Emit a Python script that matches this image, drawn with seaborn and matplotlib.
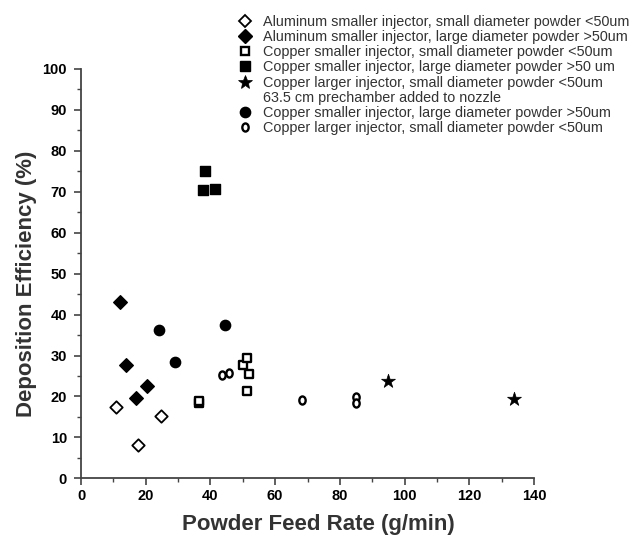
import matplotlib
matplotlib.use("Agg")
import matplotlib.pyplot as plt
from matplotlib.lines import Line2D
from matplotlib.path import Path
from matplotlib.ticker import MultipleLocator
import numpy as np
import pandas as pd
import seaborn as sns

# ---------------- data ----------------
al_small_x = [10.7, 17.7, 24.6]
al_small_y = [17.5, 8.1, 15.1]

al_large_x = [12.1, 13.9, 17.0, 20.3]
al_large_y = [43.0, 27.7, 19.5, 22.5]

cu_small_inj_small_x = [36.5, 36.5, 50.2, 51.4, 51.9, 51.4]
cu_small_inj_small_y = [18.3, 19.0, 27.7, 29.3, 25.5, 21.4]

cu_small_inj_large50_x = [37.8, 38.3, 41.3]
cu_small_inj_large50_y = [70.5, 75.1, 70.7]

cu_large_inj_prech_x = [95.0, 133.9]
cu_large_inj_prech_y = [23.8, 19.3]

cu_small_inj_large_x = [24.1, 29.1, 44.4]
cu_small_inj_large_y = [36.2, 28.4, 37.5]

cu_large_inj_small_x = [43.7, 45.7, 68.2, 85.0, 85.0]
cu_large_inj_small_y = [25.3, 25.7, 19.1, 19.8, 18.5]

labels = [
    "Aluminum smaller injector, small diameter powder <50um",
    "Aluminum smaller injector, large diameter powder >50um",
    "Copper smaller injector, small diameter powder <50um",
    "Copper smaller injector, large diameter powder >50 um",
    "Copper larger injector, small diameter powder <50um",
    "Copper smaller injector, large diameter powder >50um",
    "Copper larger injector, small diameter powder <50um",
]
extra_line = "63.5 cm prechamber added to nozzle"

x_ticks = [0, 20, 40, 60, 80, 100, 120, 140]
y_ticks = [0, 10, 20, 30, 40, 50, 60, 70, 80, 90, 100]

# ---------------- styling ----------------
sns.set_theme(style="white")
plt.rcParams["font.family"] = ["Liberation Sans", "DejaVu Sans"]

circ = Path.unit_circle()
oval = Path(circ.vertices * np.array([0.78, 1.0]), circ.codes)

series = [
    (al_small_x, al_small_y, "D", "white", 40, 1.3),
    (al_large_x, al_large_y, "D", "black", 48, 1.0),
    (cu_small_inj_small_x, cu_small_inj_small_y, "s", "white", 32, 1.7),
    (cu_small_inj_large50_x, cu_small_inj_large50_y, "s", "black", 62, 1.0),
    (cu_large_inj_prech_x, cu_large_inj_prech_y, "*", "black", 110, 0.5),
    (cu_small_inj_large_x, cu_small_inj_large_y, "o", "black", 55, 1.0),
    (cu_large_inj_small_x, cu_large_inj_small_y, oval, "white", 34, 1.7),
]

fig = plt.figure(figsize=(6.33, 5.41), dpi=100)
ax = fig.add_axes([81 / 633, 1 - 478.3 / 541, 453 / 633, 409.3 / 541])

handles = []
for (xs, ys, mk, fc, s, lw), lab in zip(series, labels):
    df = pd.DataFrame({"x": xs, "y": ys})
    sns.scatterplot(data=df, x="x", y="y", ax=ax, marker=mk, s=s,
                    facecolor=fc, edgecolor="black", linewidth=lw,
                    zorder=3, clip_on=False, legend=False)
    handles.append(Line2D([], [], linestyle="none", marker=mk,
                          markersize=np.sqrt(s), markerfacecolor=fc,
                          markeredgecolor="black", markeredgewidth=lw,
                          label=lab))

blank = Line2D([], [], linestyle="none", marker=None, label=extra_line)
leg_handles = handles[:5] + [blank] + handles[5:]

ax.set_xlim(0, 140)
ax.set_ylim(0, 100)
ax.set_xticks(x_ticks)
ax.set_yticks(y_ticks)
ax.xaxis.set_minor_locator(MultipleLocator(10))
ax.yaxis.set_minor_locator(MultipleLocator(5))

for sp in ["top", "right"]:
    ax.spines[sp].set_visible(False)
for sp in ["left", "bottom"]:
    ax.spines[sp].set_color("#444444")
    ax.spines[sp].set_linewidth(1.3)

ax.tick_params(which="major", direction="out", length=5, width=1.2,
               color="#444444", bottom=True, left=True, labelsize=10.5)
ax.tick_params(which="minor", direction="out", length=3, width=1.0,
               color="#444444", bottom=True, left=True)
ax.tick_params(axis="x", which="major", pad=3)
ax.tick_params(axis="y", which="major", pad=5)
for t in ax.get_xticklabels() + ax.get_yticklabels():
    t.set_fontweight("bold")
    t.set_color("black")

ax.set_xlabel("Powder Feed Rate (g/min)", fontsize=16, fontweight="bold",
              color="#333333")
ax.set_ylabel("Deposition Efficiency (%)", fontsize=16, fontweight="bold",
              color="#333333")
ax.xaxis.set_label_coords(0.523, -0.088)
ax.yaxis.set_label_coords(-0.097, 0.475)

fig.legend(handles=leg_handles, loc="upper left",
           bbox_to_anchor=(238 / 633, 1 - 15 / 541), frameon=False,
           fontsize=10.4, labelspacing=0.08, handletextpad=0.74,
           handlelength=1.0, borderpad=0, borderaxespad=0,
           labelcolor="#333333")

fig.savefig("out.png", dpi=100)
